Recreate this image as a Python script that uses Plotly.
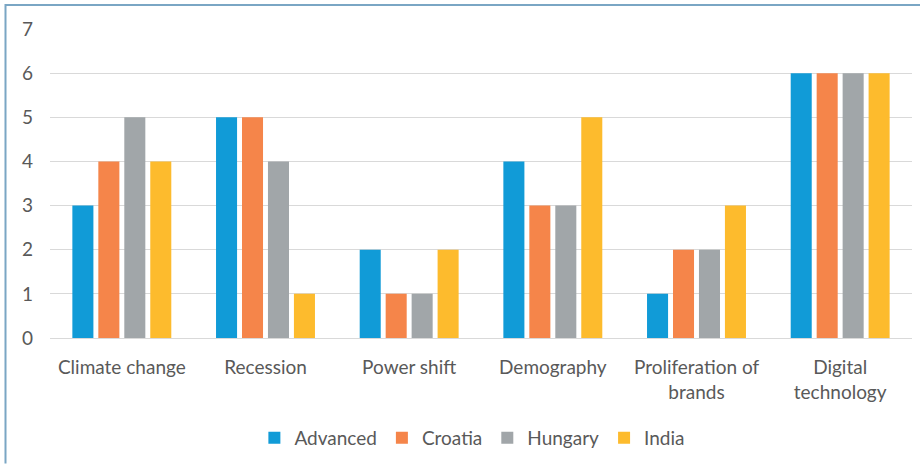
import plotly.graph_objects as go

categories = ["Climate change", "Recession", "Power shift", "Demography",
              "Proliferation of<br>brands", "Digital<br>technology"]
advanced = [3, 5, 2, 4, 1, 6]
croatia = [4, 5, 1, 3, 2, 6]
hungary = [5, 4, 1, 3, 2, 6]
india = [4, 1, 2, 5, 3, 6]
series_names = ["Advanced", "Croatia", "Hungary", "India"]
colors = ["#119bd7", "#f5854a", "#a1a6a9", "#fdbb2d"]

W, H = 920, 464
ml, mr, mt, mb = 50, 8, 29, 125
pw, ph = W - ml - mr, H - mt - mb

fig = go.Figure()
for name, vals, col in zip(series_names, [advanced, croatia, hungary, india], colors):
    fig.add_trace(go.Bar(x=categories, y=vals, name=name, marker_color=col,
                         marker_line_width=0))

def px(x):
    return (x - ml) / pw

def py(y):
    return (H - mb - y) / ph

# outer frame (top and left visible edges)
fig.add_shape(type="line", xref="paper", yref="paper", x0=px(5), x1=px(921),
              y0=py(5), y1=py(5), line=dict(color="#7aa6c4", width=2))
fig.add_shape(type="line", xref="paper", yref="paper", x0=px(5.5), x1=px(5.5),
              y0=py(4), y1=py(465), line=dict(color="#7aa6c4", width=2))

font_family = "Lato, 'Open Sans', sans-serif"
fig.update_layout(
    width=W, height=H,
    margin=dict(l=ml, r=mr, t=mt, b=mb),
    paper_bgcolor="white", plot_bgcolor="white",
    barmode="group", bargap=0.277, bargroupgap=0.19,
    font=dict(family=font_family, color="#595959", size=19),
    xaxis=dict(showgrid=False, showline=False, ticks="", tickfont=dict(size=19),
               ticklabelstandoff=16),
    yaxis=dict(range=[0, 7], dtick=1, showgrid=True, gridcolor="#d9d9d9",
               gridwidth=1, zeroline=True, zerolinecolor="#d9d9d9", zerolinewidth=1,
               showline=False, ticks="", tickfont=dict(size=19),
               ticklabelstandoff=16),
    legend=dict(orientation="h", x=0.49, xanchor="center", y=py(438),
                yanchor="middle", font=dict(size=19), itemwidth=30,
                traceorder="normal"),
    showlegend=True,
)

fig.write_html("out.html", config={"displayModeBar": False},
               post_script="document.body.style.margin='0px';")
